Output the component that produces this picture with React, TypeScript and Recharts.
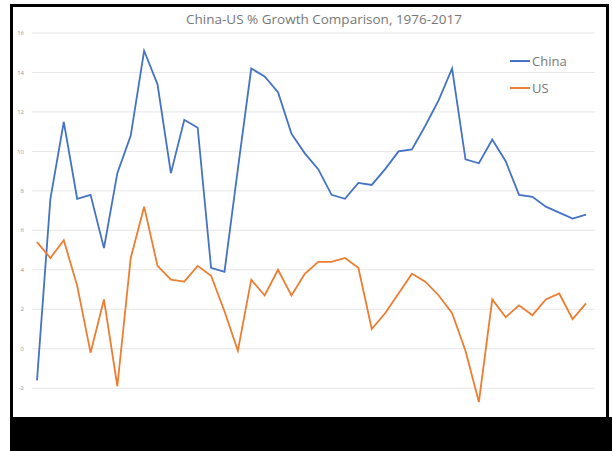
import { LineChart, Line, XAxis, YAxis, CartesianGrid } from "recharts";

const years = [
    1976, 1977, 1978, 1979, 1980, 1981, 1982, 1983, 1984, 1985, 1986, 1987, 1988, 1989,
    1990, 1991, 1992, 1993, 1994, 1995, 1996, 1997, 1998, 1999, 2000, 2001, 2002, 2003,
    2004, 2005, 2006, 2007, 2008, 2009, 2010, 2011, 2012, 2013, 2014, 2015, 2016, 2017,
];

const china = [
    -1.6, 7.6, 11.5, 7.6, 7.8, 5.1, 8.9, 10.8, 15.1, 13.4, 8.9, 11.6, 11.2, 4.1,
    3.9, 9.1, 14.2, 13.8, 13.0, 10.9, 9.9, 9.1, 7.8, 7.6, 8.4, 8.3, 9.1, 10.0,
    10.1, 11.3, 12.6, 14.2, 9.6, 9.4, 10.6, 9.5, 7.8, 7.7, 7.2, 6.9, 6.6, 6.8,
];

const us = [
    5.4, 4.6, 5.5, 3.2, -0.2, 2.5, -1.9, 4.6, 7.2, 4.2, 3.5, 3.4, 4.2, 3.7,
    1.9, -0.1, 3.5, 2.7, 4.0, 2.7, 3.8, 4.4, 4.4, 4.6, 4.1, 1.0, 1.8, 2.8,
    3.8, 3.4, 2.7, 1.8, -0.1, -2.7, 2.5, 1.6, 2.2, 1.7, 2.5, 2.8, 1.5, 2.3,
];

const yTicks = [-2, 0, 2, 4, 6, 8, 10, 12, 14, 16];

const series = [
    { key: "China", color: "#4472C4" },
    { key: "US", color: "#ED7D31" },
];

const data = years.map((year, i) => ({ year, China: china[i], US: us[i] }));

export default function App() {
    return (
        <div
            style={{
                position: "fixed",
                left: 0,
                top: 0,
                width: 612,
                height: 451,
                background: "#fff",
                fontFamily: "'Open Sans', sans-serif",
            }}
        >
            <div
                style={{
                    position: "absolute",
                    left: 10,
                    top: 4,
                    width: 593,
                    height: 410,
                    border: "3px solid #000",
                }}
            />
            <div
                style={{
                    position: "absolute",
                    left: 10,
                    top: 417,
                    width: 602,
                    height: 34,
                    background: "#000",
                }}
            />
            <div
                style={{
                    position: "absolute",
                    left: 0,
                    top: 10,
                    width: 648,
                    textAlign: "center",
                    fontSize: 13.5,
                    color: "#777",
                }}
            >
                China-US % Growth Comparison, 1976-2017
            </div>
            {/* legend drawn outside the chart so it doesn't shrink the plot */}
            <div style={{ position: "absolute", left: 510, top: 47 }}>
                {series.map((s) => (
                    <div
                        key={s.key}
                        style={{ display: "flex", alignItems: "center", height: 27 }}
                    >
                        <span
                            style={{
                                display: "inline-block",
                                width: 20,
                                height: 2,
                                background: s.color,
                            }}
                        />
                        <span style={{ marginLeft: 2, fontSize: 13, color: "#777" }}>
                            {s.key}
                        </span>
                    </div>
                ))}
            </div>
            <div style={{ position: "absolute", left: 0, top: 0 }}>
                {/* domain goes a bit under -2 so the 2009 dip hangs below the last gridline */}
                <LineChart
                    width={612}
                    height={451}
                    data={data}
                    margin={{ top: 33, right: 17, bottom: 47, left: 0 }}
                >
                    <CartesianGrid
                        vertical={false}
                        horizontalValues={yTicks}
                        stroke="#e6e6e6"
                    />
                    <XAxis dataKey="year" hide padding={{ left: 5, right: 9 }} />
                    <YAxis
                        width={32}
                        domain={[-2.8, 16]}
                        ticks={yTicks}
                        axisLine={false}
                        tickLine={false}
                        tick={{ fontSize: 6, fill: "#999" }}
                    />
                    {series.map((s) => (
                        <Line
                            key={s.key}
                            type="linear"
                            dataKey={s.key}
                            stroke={s.color}
                            strokeWidth={1.8}
                            dot={false}
                            isAnimationActive={false}
                        />
                    ))}
                </LineChart>
            </div>
        </div>
    );
}
